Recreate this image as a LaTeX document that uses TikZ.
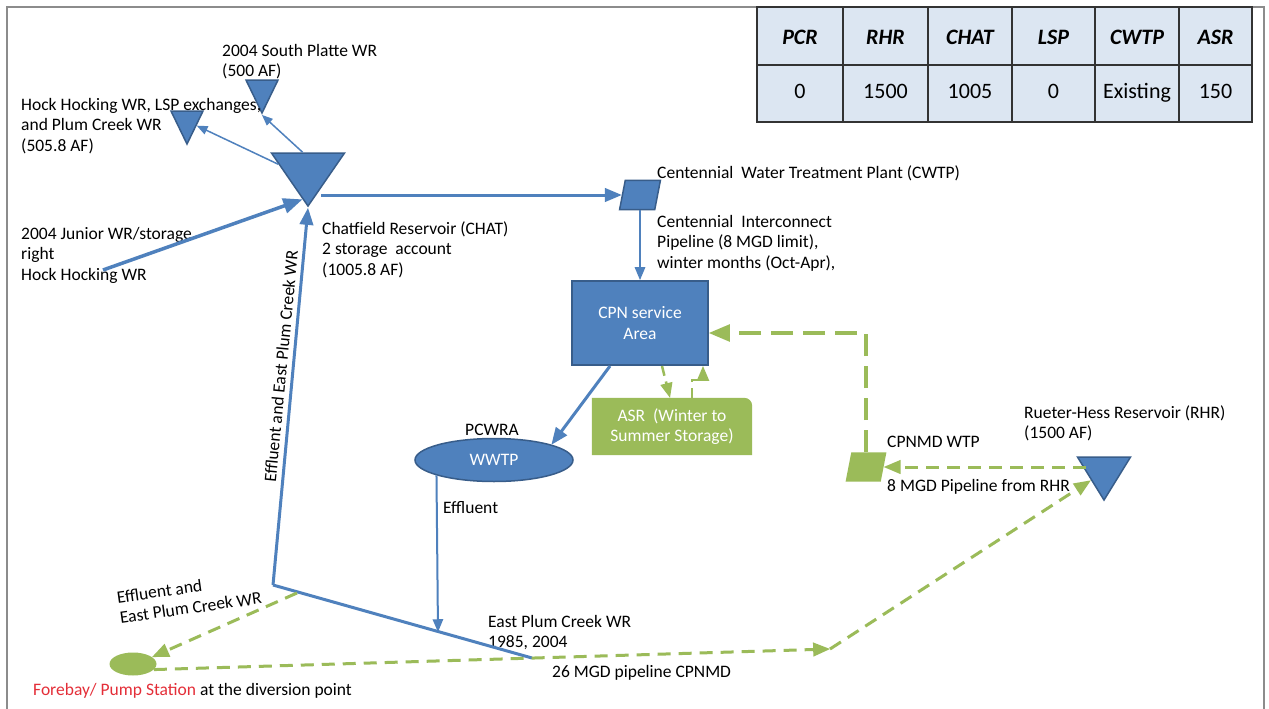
\documentclass[tikz,border=0pt]{standalone}
\usepackage{fontspec}
\setmainfont{Carlito}
\usepackage{tikz}
\usetikzlibrary{shapes,arrows}
\usetikzlibrary{positioning}
\usetikzlibrary{backgrounds}
\definecolor{bluefill}{RGB}{79,129,189}
\definecolor{blueline}{RGB}{56,93,138}
\definecolor{greenfill}{RGB}{155,187,89}
\definecolor{cellfill}{RGB}{220,230,242}
\definecolor{framegray}{RGB}{140,140,140}
\definecolor{forebayred}{RGB}{228,46,56}
\tikzstyle{resv} = [isosceles triangle, isosceles triangle stretches,
                    shape border rotate=270, draw=blueline, fill=bluefill,
                    line width=1.5pt, inner sep=0pt]
\tikzstyle{plant} = [trapezium, trapezium left angle=79,
                     trapezium right angle=101, inner sep=1pt,
                     minimum width=41pt, minimum height=26pt]
\tikzstyle{area} = [rectangle, draw=blueline, fill=bluefill, line width=2pt,
                    text=white, align=center, minimum width=136pt,
                    minimum height=84pt]
\tikzstyle{pond} = [ellipse, inner sep=0pt]
\tikzstyle{txt} = [align=left, inner sep=0pt, anchor=north west]
\tikzstyle{tline} = [inner sep=0pt, anchor=base west]
\tikzstyle{bline} = [draw=bluefill, line width=3pt, -triangle 45]
\tikzstyle{thinline} = [draw=bluefill, line width=1.5pt, -triangle 45]
\tikzstyle{gline} = [draw=greenfill, line width=3pt,
                     dash pattern=on 13pt off 8pt, -triangle 45]
\tikzstyle{cell} = [draw=black!80, line width=1.5pt, fill=cellfill]
\tikzstyle{hdtxt} = [font=\fontsize{22pt}{26pt}\selectfont\bfseries\itshape,
                     anchor=base, inner sep=0pt]
\tikzstyle{valtxt} = [font=\fontsize{22pt}{26pt}\selectfont,
                      anchor=base, inner sep=0pt]

\begin{document}
\begin{tikzpicture}[x=1pt, y=-1pt, font=\fontsize{17.5pt}{20.5pt}\selectfont]
  \begin{scope}[on background layer]
    \fill[white] (0,0) rectangle (1269,709);
  \end{scope}
  \useasboundingbox (0,0) rectangle (1269,709);
  \draw[framegray, line width=2pt] (7,709) -- (7,7) -- (1264,7) -- (1264,709);

  % Table
  \foreach \xa/\xb/\hd/\vl in {757/843/PCR/0, 843/928/RHR/1500,
      928/1012/CHAT/1005, 1012/1095/LSP/0, 1095/1179/CWTP/Existing,
      1179/1252/ASR/150} {
    \draw[cell] (\xa,7) rectangle (\xb,65);
    \draw[cell] (\xa,65) rectangle (\xb,122);
    \node[hdtxt] (hd\hd) at ({(\xa+\xb)/2},45) {\hd};
    \node[valtxt] (vl\hd) at ({(\xa+\xb)/2},98) {\vl};
  }

  % Place nodes
  \node [resv, minimum width=73pt, minimum height=53pt, anchor=apex] (chat) at (308,208) {};
  \node [resv, minimum width=32pt, minimum height=33pt, anchor=apex] (spwr) at (262,115) {};
  \node [resv, minimum width=32pt, minimum height=33pt, anchor=apex] (hhwr) at (187,146) {};
  \node [resv, minimum width=53pt, minimum height=43pt, anchor=apex] (rhr) at (1104,502) {};

  \node [plant, draw=blueline, fill=bluefill, line width=1.5pt] (cwtp) at (640,195) {};
  \node [plant, fill=greenfill] (cpnmd) at (866,467) {};
  \node [area] (cpn) at (640,323) {CPN service\\Area};
  \node [inner sep=0pt, minimum width=160pt, minimum height=57pt, text=white,
         align=center] (asr) at (672,426.5) {ASR~ (Winter to\\Summer Storage)};
  \begin{scope}[on background layer]
    \fill[greenfill] (asr.north west) -- ([xshift=-8pt]asr.north east)
      arc[start angle=90, end angle=0, radius=8pt] -- (asr.south east)
      -- (asr.south west) -- cycle;
  \end{scope}
  \node [pond, draw=blueline, fill=bluefill, line width=1.5pt, text=white,
         minimum width=158pt, minimum height=43pt] (wwtp) at (494,460) {WWTP};
  \node [pond, fill=greenfill, minimum width=47pt, minimum height=23pt] (fb) at (133,664) {};

  \coordinate (jr) at (103,270);
  \coordinate (corner) at (273,585);
  \coordinate (epc) at (532,658);
  \coordinate (effin) at (438,632);
  \coordinate (effl) at (297,593);
  \coordinate (bend) at (830,649);

  % Labels
  \node [txt] (lspwr) at (222,44) {2004 South Platte WR\\(500 AF)};
  \node [txt] (lhhwr) at (21,98) {Hock Hocking WR, LSP exchanges,\\and Plum Creek WR\\(505.8 AF)};
  \node [txt] (ljr) at (21,227) {2004 Junior WR/storage\\right\\Hock Hocking WR};
  \node [txt] (lchat) at (322,221) {Chatfield Reservoir (CHAT)\\2 storage~ account\\(1005.8 AF)};
  \node [tline] (lcwtp) at (657,178) {Centennial~ Water Treatment Plant (CWTP)};
  \node [txt] (lpipe) at (657,215) {Centennial~ Interconnect\\Pipeline (8 MGD limit),\\winter months (Oct-Apr),};
  \node [txt] (lrhr) at (1024,405) {Rueter-Hess Reservoir (RHR)\\(1500 AF)};
  \node [tline] (lcpnmd) at (887,447) {CPNMD WTP};
  \node [tline] (l8mgd) at (887,491) {8 MGD Pipeline from RHR};
  \node [inner sep=0pt, anchor=base] (lpcwra) at (492,435) {PCWRA};
  \node [tline] (leff) at (443,513) {Effluent};
  \node [txt] (lepc) at (488,615) {East Plum Creek WR\\1985, 2004};
  \node [tline] (l26) at (552,677) {26 MGD pipeline CPNMD};
  \node [tline] (lfb) at (33,695) {\textcolor{forebayred}{Forebay/ Pump Station} at the diversion point};
  \node [txt, rotate=8] (lfbwr) at (116,591) {Effluent and\\East Plum Creek WR};
  \node [inner sep=0pt, anchor=base, rotate=84.5] (lvert) at (287,367) {Effluent and East Plum Creek WR};

  % Connectors
  \path [bline, line width=3.5pt] (jr) -- (chat.258);
  \path [thinline] (chat.105) -- (spwr.apex);
  \path [thinline] (chat.165) -- (hhwr);
  \path [bline] (chat.-50 |- cwtp.west) -- (cwtp.west);
  \path [thinline, line width=2pt] (cwtp.south) -- (cpn.north);
  \path [bline] ([xshift=-30pt]cpn.south) -- (wwtp.15);
  \path [thinline, line width=2pt] (wwtp.195) -- (effin);
  \path [bline] (corner) -- (chat.apex);
  \path [draw=bluefill, line width=3pt] (corner) -- (epc);

  \path [gline] (effl) -- (fb.20);
  \path [gline] (fb.-15) -- (bend);
  \path [gline] (bend) -- (rhr);
  \path [gline] (rhr.west |- cpnmd.east) -- (cpnmd.east);
  \path [gline, line width=4pt, dash pattern=on 22pt off 10pt] (cpnmd.north) |- ([yshift=-10pt]cpn.east);
  \path [gline, line width=2.5pt, dash pattern=on 10pt off 6pt] ([xshift=22pt]cpn.south) -- ([xshift=-2pt]asr.north);
  \path [gline, line width=2.5pt, dash pattern=on 10pt off 6pt] ([xshift=20pt]asr.north) -- ++(0,-18) -| ([xshift=63pt]cpn.south);
\end{tikzpicture}
\end{document}
